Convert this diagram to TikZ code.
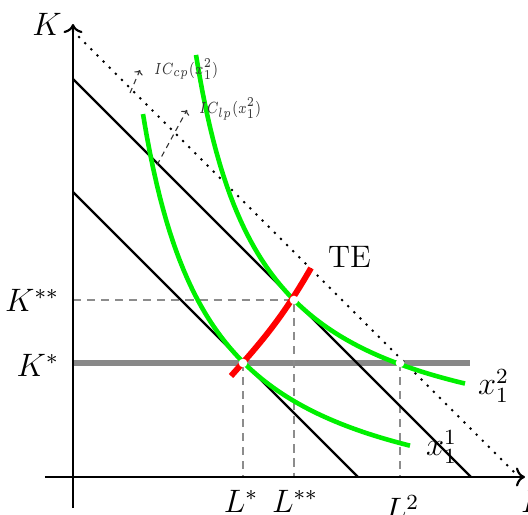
\documentclass[tikz,border=0pt]{standalone}
\usepackage{amsmath,amssymb}
\usepackage{xcolor}
\usepackage{tikz}
\usetikzlibrary{arrows.meta,calc}

\definecolor{guidegray}{RGB}{140,140,140}
\definecolor{linegray}{RGB}{136,136,136}
\definecolor{isoqgreen}{RGB}{0,240,0}

\begin{document}
\begin{tikzpicture}[x=0.37pt,y=0.37pt,line width=0.8pt,
    font=\fontsize{11.5}{13}\selectfont,
    budget/.style={draw=black,line width=0.8pt},
    isoq/.style={draw=isoqgreen,line width=1.7pt},
    guide/.style={draw=guidegray,line width=0.75pt,dash pattern=on 3pt off 2.2pt},
    lbl/.style={inner sep=0pt},
    iclbl/.style={inner sep=0pt,font=\fontsize{6}{7}\selectfont,text=black!80},
    icarrow/.style={draw=black!80,line width=0.4pt,dash pattern=on 2pt off 1.6pt,-{To[length=1.6pt]}},
    hole/.style={circle,fill=white,inner sep=0pt,minimum size=3.2pt}]
    \useasboundingbox (-73,-37) rectangle (455,477);

    \coordinate (o) at (0,0);
    \coordinate (estar) at (170,114);
    \coordinate (estst) at (221,177);
    \coordinate (etwo) at (327,114);

    \draw[draw=linegray,line width=2pt] (0,114) -- (397,114);
    \draw[guide] (0,177) -- (estst) -- (221,0);
    \draw[guide] (estar) -- (170,0);
    \draw[guide] (etwo) -- (327,0);

    \draw[budget] (0,285) -- (285,0);
    \draw[budget] (0,398) -- (398,0);
    \draw[line width=1.1pt,line cap=round,dash pattern=on 0pt off 3.2pt] (0,446) -- (444,2);

    \draw[isoq] plot[domain=70:337,samples=80] (\x,{-52.6+280.9/(\x-2.4)*100});
    \draw[isoq] plot[domain=123:392,samples=80] (\x,{13.7+266.67/(\x-57.7)*100});

    \draw[red,line width=2.2pt] (158,101) to[out=48,in=240] (238,209);

    \node[hole] (hstar) at (estar) {};
    \node[hole] (hstst) at (estst) {};
    \node[hole] (htwo) at (etwo) {};

    \draw[->] (0,-31) -- (0,453);
    \draw[->] (-28,0) -- (452,0);

    \node (kaxis) at (-26,453) {$K$};
    \node[lbl,anchor=north west] (laxis) at (447,-12) {$L$};
    \node[lbl,anchor=east] (kss) at (-13,177) {$K^{**}$};
    \node[lbl,anchor=east] (ks) at (-13,112) {$K^{*}$};
    \node[lbl,anchor=north] (ls) at (168,-12) {$L^{*}$};
    \node[lbl,anchor=north] (lss) at (222,-12) {$L^{**}$};
    \node[lbl,anchor=north] (ltwo) at (329,-17) {$L^{2}$};
    \node[lbl,anchor=north west] (te) at (254,232) {TE};
    \node[lbl,anchor=west] (xtwo) at (404,91) {$x_1^2$};
    \node[lbl,anchor=west] (xone) at (352,30) {$x_1^1$};

    \node[iclbl,anchor=west] (iccp) at (80,408) {\scalebox{0.78}[1]{$IC_{cp}(x_1^2)$}};
    \node[iclbl,anchor=west] (iclp) at (125,368) {\scalebox{0.78}[1]{$IC_{lp}(x_1^2)$}};
    \coordinate (cpfoot) at (57,384);
    \coordinate (cptip) at (67,407);
    \coordinate (lpfoot) at (84,312);
    \coordinate (lptip) at (114,367);
    \draw[icarrow] (cpfoot) -- (cptip);
    \draw[icarrow] (lpfoot) -- (lptip);
  \end{tikzpicture}
\end{document}
